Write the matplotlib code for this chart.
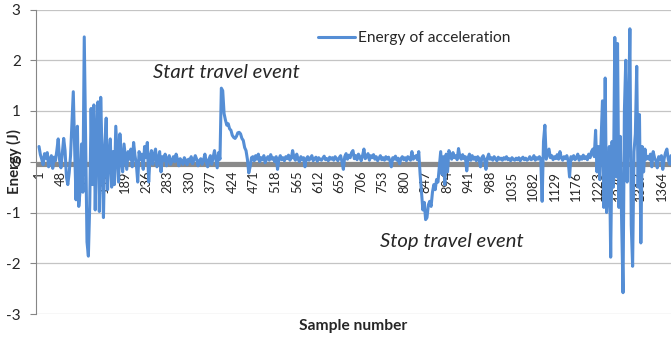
import numpy as np
import matplotlib
matplotlib.use("Agg")
import matplotlib.pyplot as plt

plt.rcParams['font.family'] = ['Lato', 'DejaVu Sans']
plt.rcParams['axes.unicode_minus'] = False

# Energy of acceleration (J), one reading every 3rd sample starting at sample 1
energy = [
    # samples 1-70
    0.30, 0.14, 0.05, -0.06, 0.16, 0.07, 0.18, -0.10, 0.04, 0.12,
    -0.13, 0.09, 0.02, 0.22, 0.45, 0.03, -0.12, 0.16, 0.46, 0.22,
    -0.30, -0.45, -0.22, 0.12,
    # samples 73-160
    0.75, 1.38, 0.25, -0.75, 0.70, -0.88, -0.55, 0.35, -0.60, 2.46,
    0.40, -1.58, -1.86, -0.85, 1.05, -0.45, 1.12, -0.95, 0.55, 1.18,
    -0.98, 1.27, 0.15, -1.10, 0.30, 0.86, -0.55, 0.10, 0.45, -0.50,
    # samples 163-397
    0.20, -0.45, 0.70, 0.15, -0.40, 0.55, 0.05, -0.20, 0.35, 0.10,
    -0.15, 0.20, 0.05, 0.25, -0.10, 0.38, 0.12, -0.05, -0.40, 0.20,
    0.05, 0.15, -0.15, 0.30, 0.08, 0.38, -0.40, 0.10, 0.22, -0.05,
    0.15, 0.25, -0.10, 0.05, 0.20, -0.20, 0.10, 0.02, 0.15, -0.08,
    0.05, 0.12, -0.05, 0.02, 0.10, 0.00, 0.15, 0.05, -0.08, 0.06,
    0.02, -0.05, 0.08, 0.03, -0.06, 0.05, 0.00, 0.10, -0.04, 0.04,
    0.12, 0.05, -0.08, 0.02, 0.06, -0.05, 0.03, 0.15, 0.00, -0.10,
    0.05, 0.12, -0.05, 0.08, 0.22, 0.05, -0.12, 0.18, 0.05,
    # samples 400-466 (start of travel)
    1.45, 1.40, 0.95, 0.82, 0.72, 0.75, 0.65, 0.62, 0.52, 0.48,
    0.46, 0.50, 0.57, 0.58, 0.55, 0.46, 0.42, 0.28, 0.22, 0.05,
    -0.22, -0.10, 0.08,
    # samples 469-835
    0.10, 0.02, 0.12, 0.05, 0.15, 0.00, 0.08, 0.04, 0.12, -0.02,
    0.06, 0.10, 0.03, 0.14, 0.05, 0.08, 0.00, 0.10, -0.15, 0.05,
    0.12, 0.04, 0.08, 0.02, 0.10, 0.06, 0.13, 0.03, 0.07, 0.22,
    0.08, 0.03, 0.15, 0.05, 0.00, 0.10, 0.04, 0.08, -0.10, 0.06,
    0.10, 0.03, 0.07, 0.12, 0.02, 0.06, 0.09, 0.01, 0.08, 0.05,
    0.03, 0.07, 0.11, 0.04, 0.06, 0.02, 0.09, 0.05, 0.08, 0.03,
    0.10, 0.06, 0.02, 0.08, 0.12, 0.00, -0.15, 0.10, 0.16, 0.05,
    0.13, 0.08, 0.18, 0.22, 0.06, 0.12, 0.04, 0.15, 0.10, 0.02,
    0.12, 0.25, 0.06, 0.10, 0.16, 0.03, 0.12, 0.08, 0.14, 0.05,
    0.10, 0.02, 0.07, 0.12, 0.04, 0.08, 0.03, 0.10, 0.05, 0.09,
    0.02, -0.10, 0.08, 0.05, 0.11, 0.03, 0.07, -0.04, 0.06, 0.10,
    0.04, 0.08, 0.02, 0.10, 0.06, 0.03, 0.20, 0.05, 0.09, 0.12,
    0.04, 0.20, -0.25,
    # samples 838-898 (stop of travel)
    -0.60, -0.95, -0.80, -1.14, -1.10, -0.85, -0.78, -0.88, -0.60, -0.45,
    -0.55, -0.35, -0.40, -0.10, 0.20, -0.25, 0.10, -0.45, 0.15, -0.20,
    0.22,
    # samples 901-1213
    0.15, 0.05, 0.18, 0.08, 0.12, 0.04, 0.26, 0.10, 0.05, 0.14,
    0.06, 0.10, -0.18, 0.08, 0.15, 0.03, 0.12, 0.05, 0.09, 0.02,
    0.10, 0.06, -0.10, 0.08, 0.12, 0.04, -0.15, 0.07, 0.15, 0.05,
    0.08, 0.03, 0.10, 0.06, 0.02, 0.09, 0.05, 0.07, 0.03, 0.08,
    0.05, 0.10, 0.04, 0.06, 0.02, 0.08, 0.05, 0.03, 0.07, 0.04,
    0.08, 0.02, 0.06, 0.09, 0.04, 0.07, 0.03, 0.05, 0.10, 0.04,
    0.06, 0.12, 0.03, 0.08, 0.05, 0.10, 0.05, -0.78, 0.40, 0.72,
    0.05, 0.15, 0.25, 0.08, 0.12, 0.04, 0.10, 0.06, 0.14, 0.05,
    0.20, 0.08, 0.03, 0.10, 0.06, 0.12, 0.02, -0.30, 0.10, 0.05,
    0.12, 0.04, 0.08, 0.15, 0.03, 0.10, 0.05, 0.13, 0.06, 0.10,
    0.04, 0.15, 0.08, 0.20, 0.25,
    # samples 1216-1330
    0.10, 0.62, -0.20, 0.30, -0.35, 0.40, 1.20, -0.90, 1.65, -1.00,
    -0.60, 0.30, -1.88, 0.40, -0.50, 2.45, -0.30, 2.33, -0.90, 0.50,
    -1.20, -2.58, 1.00, 2.00, -0.40, 0.80, 2.62, -1.25, -2.06, 0.20,
    0.55, 1.88, -0.50, 0.93, -1.60, 0.30, -0.20, 0.25, 0.05,
    # samples 1333-1390
    0.10, 0.05, 0.15, -0.10, 0.20, 0.08, 0.02, -0.12, 0.10, 0.05,
    0.12, -0.15, 0.06, 0.18, 0.25, 0.05, -0.05, 0.12, 0.02, 0.10,
]
sample_step = 3
sample_no = 1 + sample_step * np.arange(len(energy))

tick_labels = ['1', '48', '95', '142', '189', '236', '283', '330', '377', '424',
               '471', '518', '565', '612', '659', '706', '753', '800', '847', '894',
               '941', '988', '1035', '1082', '1129', '1176', '1223', '1270', '1317', '1364']
tick_pos = [int(t) for t in tick_labels]
y_ticks = [-3, -2, -1, 0, 1, 2, 3]

series_name = 'Energy of acceleration'
x_title = 'Sample number'
y_title = 'Energy (J)'

W, H = 671, 341
fig = plt.figure(figsize=(W / 100, H / 100), dpi=100)
ax = fig.add_axes([36 / W, (H - 314) / H, (W - 36) / W, (314 - 9.5) / H])

blue = '#558ed5'
text_col = '#262626'

ax.set_xlim(-5.6, 1384)
ax.set_ylim(-3, 3)

ax.set_yticks(y_ticks)
ax.yaxis.grid(True, color='#c4c4c4', lw=0.9)
ax.set_axisbelow(True)

# thick category-axis band just under zero
ax.axhline(-0.05, color='#8a8a8a', lw=3.7, zorder=1.5)

ax.plot(sample_no, energy, color=blue, lw=2.2, solid_joinstyle='round',
        solid_capstyle='round', zorder=3, label=series_name, clip_on=True)

for side in ('top', 'right'):
    ax.spines[side].set_visible(False)
ax.spines['left'].set_color('#868686')
ax.spines['left'].set_linewidth(0.8)
ax.spines['bottom'].set_position(('data', 0))
ax.spines['bottom'].set_visible(False)

ax.set_xticks(tick_pos)
ax.set_xticklabels(tick_labels, rotation=90, fontsize=9.3, color=text_col)
ax.tick_params(axis='x', length=0, pad=6.5)
ax.tick_params(axis='y', length=4, width=0.8, color='#868686', direction='out',
               labelsize=11, labelcolor=text_col, pad=7)

fig.text(14 / W, 1 - 162 / H, y_title, rotation=90, ha='center', va='center',
         fontsize=10.8, fontweight='bold', color=text_col)
fig.text(353 / W, 1 - 326 / H, x_title, ha='center', va='center',
         fontsize=11.2, fontweight='bold', color=text_col)

fig.text(153 / W, 1 - 73 / H, 'Start travel event', ha='left', va='center',
         fontsize=14.6, style='italic', color=text_col)
fig.text(380 / W, 1 - 242 / H, 'Stop travel event', ha='left', va='center',
         fontsize=14.6, style='italic', color=text_col)

ax.legend(loc='center left', bbox_to_anchor=(318 / W, 1 - 38 / H),
          bbox_transform=fig.transFigure, frameon=False, fontsize=11.2,
          handlelength=2.4, handletextpad=0.15, borderpad=0, borderaxespad=0,
          labelcolor=text_col)

fig.savefig('out.png', dpi=100)
